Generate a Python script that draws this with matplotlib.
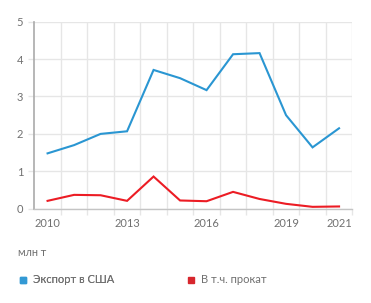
import matplotlib
matplotlib.use("Agg")
import matplotlib.pyplot as plt
from matplotlib.lines import Line2D

plt.rcParams['font.family'] = ['Lato', 'DejaVu Sans']

years = list(range(2010, 2022))
export_usa = [1.48, 1.70, 2.00, 2.07, 3.71, 3.49, 3.17, 4.13, 4.16, 2.50, 1.64, 2.15]
rolled = [0.21, 0.37, 0.36, 0.21, 0.86, 0.22, 0.20, 0.45, 0.26, 0.13, 0.05, 0.06]
shown_years = [2010, 2013, 2016, 2019, 2021]
y_ticks = [0, 1, 2, 3, 4, 5]

blue = '#2a96d2'
red = '#ec1c24'
text_col = '#707070'
grid_col = '#e6e6e6'

fig = plt.figure(figsize=(3.71, 3.03), dpi=100)
ax = fig.add_axes([0.0925, 0.3112, 0.8571, 0.6172])

x = list(range(len(years)))
ax.plot(x, export_usa, color=blue, lw=1.5, solid_joinstyle='miter')
ax.plot(x, rolled, color=red, lw=1.5, solid_joinstyle='miter')

ax.set_xlim(-0.5, len(years) - 0.5)
ax.set_ylim(0, 5)

ax.set_xticks([years.index(y) for y in shown_years])
ax.set_xticklabels([str(y) for y in shown_years])
ax.set_xticks([i + 0.5 for i in range(len(years))], minor=True)
ax.tick_params(axis='x', which='major', length=0, pad=7, labelsize=8, labelcolor=text_col)
ax.tick_params(axis='x', which='minor', length=4, color=grid_col, width=1)

ax.set_yticks(y_ticks)
ax.tick_params(axis='y', length=4, color=grid_col, width=1, pad=4,
               labelsize=8, labelcolor=text_col)

ax.grid(True, which='minor', axis='x', color=grid_col, lw=1)
ax.grid(True, which='major', axis='y', color=grid_col, lw=1)
ax.set_axisbelow(True)

for s in ['top', 'right']:
    ax.spines[s].set_visible(False)
ax.spines['left'].set_color('#aaaaaa')
ax.spines['left'].set_linewidth(1.2)
ax.spines['bottom'].set_color('#c4c4c4')
ax.spines['bottom'].set_linewidth(1)

fig.text(0.048, 0.166, 'млн т', fontsize=7.8, color=text_col, va='center')

h1 = Line2D([], [], marker='s', ls='none', color='#3399d4', markersize=4.5)
h2 = Line2D([], [], marker='s', ls='none', color='#d7262d', markersize=4.5)
leg1 = fig.legend([h1], ['Экспорт в США'], loc='center left', bbox_to_anchor=(0.02, 0.076),
                  frameon=False, fontsize=8, handletextpad=0.4, handlelength=1.0,
                  labelcolor=text_col)
fig.add_artist(leg1)
fig.legend([h2], ['В т.ч. прокат'], loc='center left', bbox_to_anchor=(0.472, 0.076),
           frameon=False, fontsize=8, handletextpad=0.4, handlelength=1.0,
           labelcolor=text_col)

fig.savefig('out.png', dpi=100)
